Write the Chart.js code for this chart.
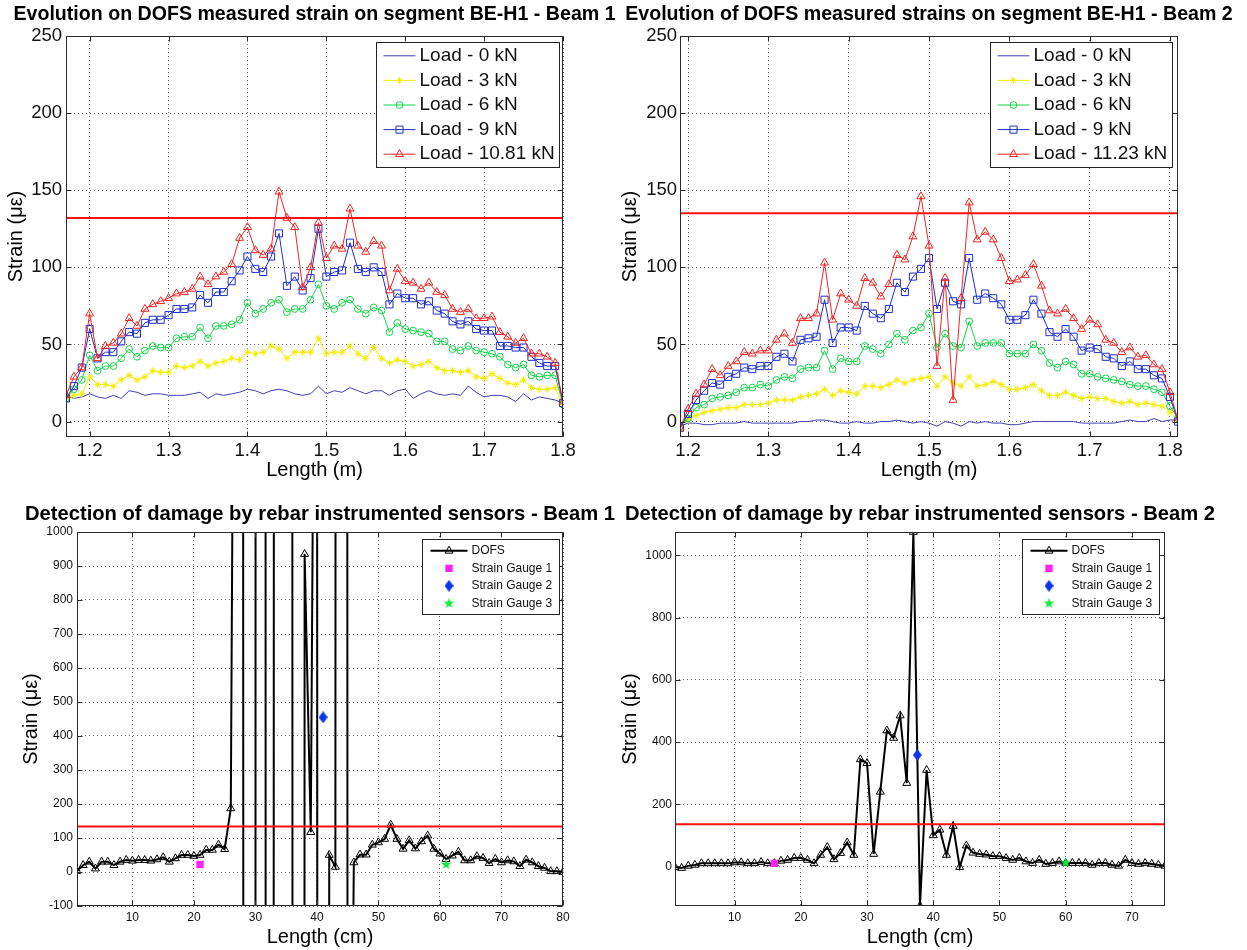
<!DOCTYPE html>
<html>
<head>
<meta charset="utf-8">
<script src="https://cdn.jsdelivr.net/npm/chart.js@4.4.1/dist/chart.umd.min.js"></script>
<style>
  body { margin: 0; background: #fff; width: 1247px; height: 950px; overflow: hidden; }
  canvas { position: absolute; }
</style>
</head>
<body>
<canvas id="c1" width="620" height="480" style="left:0;top:0"></canvas>
<canvas id="c2" width="627" height="480" style="left:620px;top:0"></canvas>
<canvas id="c3" width="620" height="460" style="left:0;top:490px"></canvas>
<canvas id="c4" width="627" height="460" style="left:620px;top:490px"></canvas>
<script>
// --- segment BE-H1, beam 1 (length in m, strain in microstrain)
const lenB1 = [1.17,1.18,1.19,1.20,1.21,1.22,1.23,1.24,1.25,1.26,1.27,1.28,1.29,1.30,1.31,1.32,1.33,1.34,1.35,1.36,
  1.37,1.38,1.39,1.40,1.41,1.42,1.43,1.44,1.45,1.46,1.47,1.48,1.49,1.50,1.51,1.52,1.53,1.54,1.55,1.56,
  1.57,1.58,1.59,1.60,1.61,1.62,1.63,1.64,1.65,1.66,1.67,1.68,1.69,1.70,1.71,1.72,1.73,1.74,1.75,1.76,
  1.77,1.78,1.79,1.80];
const b1Load0 = [17,15,16,18,16,15,17,15,20,19, 17,18,18,17,17,17,18,19,15,18, 17,18,19,21,20,18,20,21,20,18,
  17,18,23,18,20,19,22,20,18,20, 20,17,20,21,15,18,20,18,17,18, 17,23,19,16,17,17,16,13,18,14, 16,15,14,12];
const b1Load3 = [15,17,18,29,24,24,23,27,30,27, 29,33,32,32,36,35,36,39,36,38, 39,41,40,45,44,45,49,47,41,45,
  45,45,54,44,45,45,49,44,41,48, 41,38,40,39,36,37,39,35,33,33, 32,33,29,28,31,28,25,24,27,22, 21,21,22,11];
const b1Load6 = [15,21,27,43,33,36,36,41,47,42, 46,49,48,48,54,55,55,61,54,62, 62,63,66,77,70,73,77,79,71,73,
  73,79,89,75,73,77,79,73,70,74, 72,58,64,60,59,58,57,52,52,47, 46,49,46,45,44,42,37,35,37,30, 29,30,30,11];
const b1Load9 = [15,23,35,60,41,45,45,52,58,57, 64,66,66,69,73,73,74,82,77,84, 84,91,98,107,99,97,107,122,88,94,
  85,93,125,94,97,98,116,99,97,100, 97,76,83,80,80,76,78,72,70,65, 63,65,60,59,59,49,49,48,48,42, 38,36,36,12];
const b1LoadMax = [17,29,35,70,41,49,51,57,67,62, 73,76,78,80,83,84,86,94,89,94, 97,102,119,126,111,108,112,149,132,126,
  87,100,129,106,114,112,138,114,110,117, 114,85,99,91,90,86,90,84,82,73, 71,73,67,67,68,58,55,51,54,44, 44,42,38,13];
const loadLabelsB1 = ['Load - 0 kN', 'Load - 3 kN', 'Load - 6 kN', 'Load - 9 kN', 'Load - 10.81 kN'];
const limitB1 = 132;

// --- segment BE-H1, beam 2
const lenB2 = [1.19,1.20,1.21,1.22,1.23,1.24,1.25,1.26,1.27,1.28,1.29,1.30,1.31,1.32,1.33,1.34,1.35,1.36,1.37,1.38,
  1.39,1.40,1.41,1.42,1.43,1.44,1.45,1.46,1.47,1.48,1.49,1.50,1.51,1.52,1.53,1.54,1.55,1.56,1.57,1.58,
  1.59,1.60,1.61,1.62,1.63,1.64,1.65,1.66,1.67,1.68,1.69,1.70,1.71,1.72,1.73,1.74,1.75,1.76,1.77,1.78,
  1.79,1.80,1.81];
const b2Load0 = [-3,-1,-1,-2,-2,-1,-1,-1,0,-1, -1,-1,-1,-1,-1,0,0,1,1,0, -1,-1,0,-1,-1,0,0,1,0,-1,
  0,-1,-3,0,-1,-3,0,-1,0,-1, -1,-2,-2,-1,0,0,0,0,0,0, -1,-1,-1,-1,-1,0,1,0,0,2, 0,1,1];
const b2Load3 = [-2,1,4,6,7,8,9,9,11,11, 11,12,14,14,14,16,17,18,21,17, 20,19,18,23,23,22,24,27,25,27,
  28,29,23,29,25,23,29,23,24,26, 24,21,21,22,24,20,17,17,19,17, 15,16,15,15,13,12,13,11,12,11, 10,6,1];
const b2Load6 = [-3,2,9,11,15,16,17,19,22,22, 24,23,27,29,28,34,35,35,46,34, 41,39,39,49,47,44,50,57,53,59,
  61,70,48,57,49,48,65,49,51,51, 51,44,44,44,50,46,38,35,39,37, 31,31,29,28,27,26,24,23,23,21, 19,10,2];
const b2Load9 = [-4,5,14,20,25,24,29,31,35,34, 36,36,42,44,39,53,54,55,79,51, 61,61,59,75,70,67,73,90,84,94,
  99,106,73,90,78,76,106,79,83,80, 76,66,66,69,79,70,58,55,60,55, 46,48,47,42,41,36,39,34,34,30, 28,16,0];
const b2LoadMax = [-4,8,18,24,34,30,36,39,45,44, 46,46,53,57,51,67,67,70,103,66, 83,79,75,93,90,81,89,108,105,120,
  146,114,36,93,14,80,142,118,123,118, 106,91,92,95,102,88,72,70,73,67, 60,66,63,53,51,45,48,42,43,37, 34,19,1];
const loadLabelsB2 = ['Load - 0 kN', 'Load - 3 kN', 'Load - 6 kN', 'Load - 9 kN', 'Load - 11.23 kN'];
const limitB2 = 135;

const topXTicks = [1.2, 1.3, 1.4, 1.5, 1.6, 1.7, 1.8];
const topYTicks = [0, 50, 100, 150, 200, 250];

// --- rebar sensors, beam 1 (length in cm)
const posB1 = [1,2,3,4,5,6,7,8,9,10,11,12,13,14,15,16,17,18,19,20,21,22,23,24,25,26,27,28,29,30,
  31,32,33,34,35,36,37,38,39,40,41,42,43,44,45,46,47,48,49,50,51,52,53,54,55,56,57,58,59,60,
  61,62,63,64,65,66,67,68,69,70,71,72,73,74,75,76,77,78,79,80];
// off-scale readings (far outside the axis) estimated from where the traces leave the plot
const dofsB1 = [3,20,30,10,30,30,20,30,35,33, 35,35,33,37,43,30,40,50,50,47,
  50,65,65,80,67,187,3500,1500,-50000,-1500, 200000,-50000,1200,3000,2000,1200,-50000,935,117,3000,
  -50000,50,15,50000,-2000,28,51,51,80,87, 97,139,97,68,93,69,90,107,68,54,
  38,48,59,34,34,46,41,26,38,28, 34,31,17,36,28,17,12,2,2,0];
const gaugePosB1 = [21, 41, 61];
const gaugeValB1 = [22, 455, 22];
const limitRebarB1 = 134;

// --- rebar sensors, beam 2
const posB2 = [1,2,3,4,5,6,7,8,9,10,11,12,13,14,15,16,17,18,19,20,21,22,23,24,25,26,27,28,29,30,
  31,32,33,34,35,36,37,38,39,40,41,42,43,44,45,46,47,48,49,50,51,52,53,54,55,56,57,58,59,60,
  61,62,63,64,65,66,67,68,69,70,71,72,73,74,75];
const dofsB2 = [-2,-5,2,5,10,10,10,10,10,13, 13,10,10,14,10,10,18,21,27,27,
  21,10,37,62,23,43,77,37,344,332, 40,240,437,413,485,268,1075,-127,310,100,
  118,37,130,-2,67,44,40,38,33,33, 27,21,27,16,11,21,8,11,16,11,
  11,11,11,5,11,11,5,2,21,11, 8,11,8,5,2];
const gaugePosB2 = [16, 37.6, 60];
const gaugeValB2 = [10, 358, 12];
const limitRebarB2 = 136;
const gaugeLabels = ['Strain Gauge 1', 'Strain Gauge 2', 'Strain Gauge 3'];

const botXTicksB1 = [10, 20, 30, 40, 50, 60, 70, 80];
const botYTicksB1 = [-100, 0, 100, 200, 300, 400, 500, 600, 700, 800, 900, 1000];
const botXTicksB2 = [10, 20, 30, 40, 50, 60, 70];
const botYTicksB2 = [0, 200, 400, 600, 800, 1000];

const FONT = "'Liberation Sans', Arial, Helvetica, sans-serif";
Chart.defaults.font.family = FONT;
Chart.defaults.color = '#111';

const loadStyle = [
  { color: '#4040b4', marker: false, r: 0 },
  { color: '#f0ee00', marker: 'star', r: 3.5 },
  { color: '#14d448', marker: 'circle', r: 3.4 },
  { color: '#1e2ec8', marker: 'rect', r: 5 },
  { color: '#f02424', marker: 'triangle', r: 4.6 }
];

function markerImage(w, h, color, kind) {
  const c = document.createElement('canvas');
  c.width = w; c.height = h;
  const g = c.getContext('2d');
  g.fillStyle = color;
  g.beginPath();
  if (kind === 'diamond') {
    g.moveTo(w / 2, 0); g.lineTo(w, h / 2); g.lineTo(w / 2, h); g.lineTo(0, h / 2);
  } else {
    for (let i = 0; i < 10; i++) {
      const r = i % 2 ? w * 0.21 : w * 0.5;
      const a = -Math.PI / 2 + i * Math.PI / 5;
      g.lineTo(w / 2 + r * Math.cos(a), h / 2 + r * Math.sin(a));
    }
  }
  g.closePath();
  g.fill();
  return c;
}
const diamondImg = markerImage(9, 12, '#0b36ea', 'diamond');
const starImg = markerImage(11, 11, '#12e83a', 'star');

// box + inward ticks, like the matlab axes
const frame = {
  id: 'frame',
  afterDatasetsDraw(chart) {
    const { ctx, chartArea: a, scales } = chart;
    const L = Math.round(a.left) + 0.5, R = Math.round(a.right) - 0.5;
    const T = Math.round(a.top) + 0.5, B = Math.round(a.bottom) - 0.5;
    ctx.save();
    ctx.strokeStyle = '#2a2a2a';
    ctx.lineWidth = 1;
    ctx.strokeRect(L, T, R - L, B - T);
    ctx.beginPath();
    scales.x.ticks.forEach(t => {
      const p = Math.round(scales.x.getPixelForValue(t.value)) + 0.5;
      ctx.moveTo(p, B); ctx.lineTo(p, B - 5);
      ctx.moveTo(p, T); ctx.lineTo(p, T + 5);
    });
    scales.y.ticks.forEach(t => {
      const p = Math.round(scales.y.getPixelForValue(t.value)) + 0.5;
      ctx.moveTo(L, p); ctx.lineTo(L + 5, p);
      ctx.moveTo(R, p); ctx.lineTo(R - 5, p);
    });
    ctx.stroke();
    ctx.restore();
  }
};

const boxLegend = {
  id: 'boxLegend',
  afterDraw(chart, args, o) {
    if (!o.items) return;
    const { ctx, chartArea: a } = chart;
    ctx.save();
    ctx.font = o.font;
    const dss = o.items.map(i => chart.data.datasets[i]);
    const tw = Math.max(...dss.map(d => ctx.measureText(d.label).width));
    const w = Math.round(o.padL + o.lineLen + o.gap + tw + o.padR);
    const h = Math.round(o.padT * 2 + o.rowH * dss.length);
    const x0 = Math.round(a.right - o.right - w) + 0.5;
    const y0 = Math.round(a.top + o.top) + 0.5;
    ctx.fillStyle = '#fff';
    ctx.fillRect(x0, y0, w, h);
    ctx.strokeStyle = '#222';
    ctx.lineWidth = 1;
    ctx.strokeRect(x0, y0, w, h);
    dss.forEach((d, k) => {
      const cy = y0 + o.padT + o.rowH * (k + 0.5);
      const lx = x0 + o.padL;
      if (d.showLine !== false) {
        ctx.strokeStyle = d.borderColor;
        ctx.lineWidth = d.borderWidth;
        ctx.beginPath();
        ctx.moveTo(lx, cy); ctx.lineTo(lx + o.lineLen, cy);
        ctx.stroke();
      }
      if (d.pointRadius > 0 || typeof d.pointStyle === 'object') {
        ctx.strokeStyle = d.pointBorderColor;
        ctx.fillStyle = d.pointBackgroundColor;
        ctx.lineWidth = d.pointBorderWidth;
        Chart.helpers.drawPoint(ctx, { pointStyle: d.pointStyle, radius: d.pointRadius,
          borderWidth: d.pointBorderWidth, rotation: 0 }, lx + o.lineLen / 2, cy);
      }
      ctx.fillStyle = '#111';
      ctx.textAlign = 'left';
      ctx.textBaseline = 'middle';
      ctx.fillText(d.label, lx + o.lineLen + o.gap, cy);
    });
    ctx.restore();
  }
};

const plotTitle = {
  id: 'plotTitle',
  afterDraw(chart, args, o) {
    if (!o.text) return;
    const { ctx, chartArea: a } = chart;
    ctx.save();
    ctx.font = o.font;
    ctx.fillStyle = '#000';
    ctx.textAlign = 'center';
    ctx.textBaseline = 'middle';
    ctx.fillText(o.text, (a.left + a.right) / 2 + (o.dx || 0), o.y);
    ctx.restore();
  }
};

function limitLine(v, x0, x1) {
  return { label: 'limit', data: [{ x: x0, y: v }, { x: x1, y: v }], borderColor: '#ff1010',
    borderWidth: 2, pointRadius: 0, order: 0 };
}

function makeChart(id, g, datasets, ax, title, legend) {
  const grid = { color: 'rgba(60,60,60,0.75)', drawTicks: false, lineWidth: 1 };
  new Chart(document.getElementById(id), {
    type: 'line',
    data: { datasets: datasets },
    options: {
      responsive: false,
      animation: false,
      events: [],
      layout: { padding: { left: 0, top: g.top, right: g.w - g.right, bottom: 0 } },
      scales: {
        x: {
          type: 'linear', min: ax.xMin, max: ax.xMax,
          afterFit: s => { s.height = g.h - g.bottom; },
          afterBuildTicks: s => { s.ticks = ax.xTicks.map(v => ({ value: v })); },
          grid: grid,
          border: { display: false, dash: [1, 3] },
          ticks: { padding: g.xTickPad, color: '#111', font: { size: ax.tickSize },
            callback: v => ax.xFmt ? v.toFixed(1) : String(v) },
          title: { display: true, text: ax.xTitle, color: '#000',
            font: { size: 20, lineHeight: 1 }, padding: { top: 0, bottom: g.xTitlePad } }
        },
        y: {
          type: 'linear', min: ax.yMin, max: ax.yMax,
          afterFit: s => { s.width = g.left; },
          afterBuildTicks: s => { s.ticks = ax.yTicks.map(v => ({ value: v })); },
          grid: grid,
          border: { display: false, dash: [1, 3] },
          ticks: { padding: g.yTickPad, color: '#111', font: { size: ax.tickSize },
            callback: v => String(v) },
          title: { display: true, text: 'Strain (\u03bc\u03b5)', color: '#000',
            font: { size: 20, lineHeight: 1 }, padding: { top: g.yTitlePad, bottom: 0 } }
        }
      },
      plugins: {
        legend: { display: false },
        tooltip: { enabled: false },
        plotTitle: { text: title, y: g.titleY, font: 'bold ' + g.titleSize + 'px ' + FONT },
        boxLegend: legend
      }
    },
    plugins: [frame, boxLegend, plotTitle]
  });
}

function loadSets(xs, series, labels) {
  return series.map((vals, i) => ({
    label: labels[i],
    data: xs.map((x, k) => ({ x: x, y: vals[k] })),
    borderColor: loadStyle[i].color,
    borderWidth: 1,
    pointStyle: loadStyle[i].marker,
    pointRadius: loadStyle[i].r,
    pointBorderColor: loadStyle[i].color,
    pointBackgroundColor: 'rgba(0,0,0,0)',
    pointBorderWidth: 1,
    order: 10 - i
  }));
}

function rebarSets(xs, vals, gx, gy) {
  const dofs = {
    label: 'DOFS',
    data: xs.map((x, k) => ({ x: x, y: vals[k] })),
    borderColor: '#000', borderWidth: 2,
    pointStyle: 'triangle', pointRadius: 4.6,
    pointBorderColor: '#000', pointBackgroundColor: 'rgba(0,0,0,0)', pointBorderWidth: 1,
    order: 9
  };
  const styles = [
    { pointStyle: 'rect', pointRadius: 5.2, pointBackgroundColor: '#ff22f0' },
    { pointStyle: diamondImg, pointRadius: 5, pointBackgroundColor: '#0b36ea' },
    { pointStyle: starImg, pointRadius: 5, pointBackgroundColor: '#12e83a' }
  ];
  const gauges = gx.map((x, i) => Object.assign({
    label: gaugeLabels[i],
    data: [{ x: x, y: gy[i] }],
    showLine: false,
    pointBorderWidth: 0,
    pointBorderColor: 'rgba(0,0,0,0)',
    order: 3 - i
  }, styles[i]));
  return [dofs].concat(gauges);
}

const topLegend = { items: [0, 1, 2, 3, 4], font: '19px ' + FONT, rowH: 24.6, padT: 1,
  padL: 7, lineLen: 32, gap: 4, padR: 5, top: 6 };
const botLegend = { items: [0, 1, 2, 3], font: '12px ' + FONT, rowH: 17.5, padT: 2.6,
  padL: 8, lineLen: 37, gap: 4, padR: 7, top: 7 };

const setsB1 = loadSets(lenB1, [b1Load0, b1Load3, b1Load6, b1Load9, b1LoadMax], loadLabelsB1);
setsB1.push(limitLine(limitB1, lenB1[0], lenB1[lenB1.length - 1]));
makeChart('c1',
  { w: 620, h: 480, left: 66, right: 563, top: 36, bottom: 437, yTitlePad: 6, xTitlePad: 0,
    xTickPad: 3, yTickPad: 4, titleY: 15, titleSize: 19.6 },
  setsB1,
  { xMin: 1.17, xMax: 1.8, yMin: -10, yMax: 250, xTicks: topXTicks, yTicks: topYTicks,
    xFmt: true, tickSize: 18.5, xTitle: 'Length (m)' },
  'Evolution on DOFS measured strain on segment BE-H1 - Beam 1',
  Object.assign({ right: 4 }, topLegend));

const setsB2 = loadSets(lenB2, [b2Load0, b2Load3, b2Load6, b2Load9, b2LoadMax], loadLabelsB2);
setsB2.push(limitLine(limitB2, lenB2[0], lenB2[lenB2.length - 1]));
makeChart('c2',
  { w: 627, h: 480, left: 60, right: 558, top: 36, bottom: 437, yTitlePad: 0, xTitlePad: 0,
    xTickPad: 3, yTickPad: 3, titleY: 15, titleSize: 19.6 },
  setsB2,
  { xMin: 1.19, xMax: 1.81, yMin: -10, yMax: 250, xTicks: topXTicks, yTicks: topYTicks,
    xFmt: true, tickSize: 18.5, xTitle: 'Length (m)' },
  'Evolution of DOFS measured strains on segment BE-H1 - Beam 2',
  Object.assign({ right: 6 }, topLegend));

const setsR1 = rebarSets(posB1, dofsB1, gaugePosB1, gaugeValB1);
setsR1.push(Object.assign(limitLine(limitRebarB1, 1, 80), { order: 5 }));
makeChart('c3',
  { w: 620, h: 460, left: 77, right: 563, top: 42, bottom: 416, yTitlePad: 21, xTitlePad: 3,
    xTickPad: 4, yTickPad: 4, titleY: 24, titleSize: 20.2 },
  setsR1,
  { xMin: 1, xMax: 80, yMin: -100, yMax: 1000, xTicks: botXTicksB1, yTicks: botYTicksB1,
    xFmt: false, tickSize: 12, xTitle: 'Length (cm)' },
  'Detection of damage by rebar instrumented sensors - Beam 1',
  Object.assign({ right: 4 }, botLegend));

const setsR2 = rebarSets(posB2, dofsB2, gaugePosB2, gaugeValB2);
setsR2.push(Object.assign(limitLine(limitRebarB2, 1, 75), { order: 5 }));
makeChart('c4',
  { w: 627, h: 460, left: 55, right: 545, top: 42, bottom: 416, yTitlePad: 0, xTitlePad: 3,
    xTickPad: 4, yTickPad: 3, titleY: 24, titleSize: 20.2 },
  setsR2,
  { xMin: 1, xMax: 75, yMin: -127, yMax: 1075, xTicks: botXTicksB2, yTicks: botYTicksB2,
    xFmt: false, tickSize: 12, xTitle: 'Length (cm)' },
  'Detection of damage by rebar instrumented sensors - Beam 2',
  Object.assign({ right: 6 }, botLegend));
</script>
</body>
</html>
